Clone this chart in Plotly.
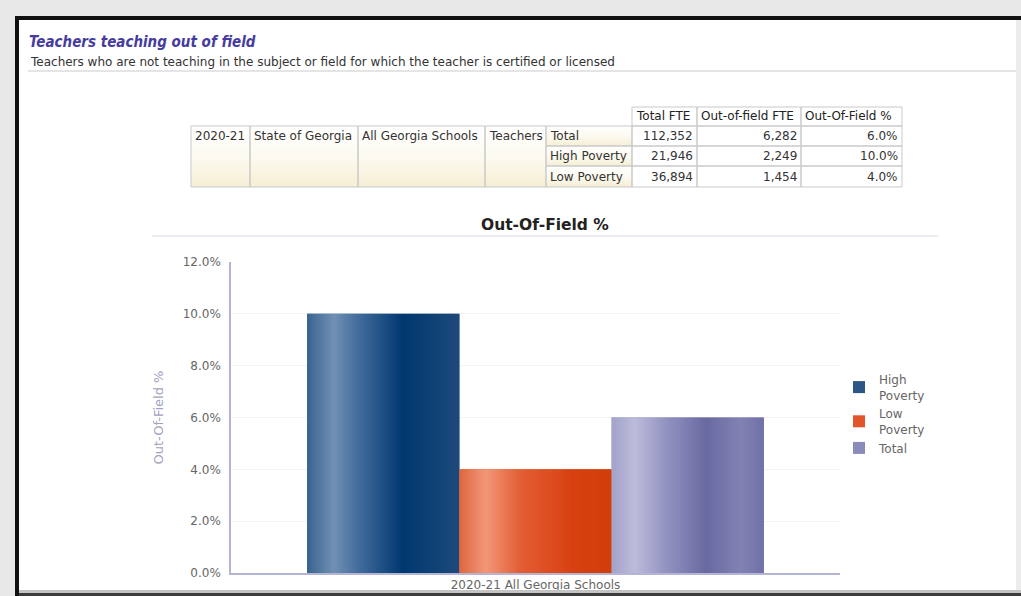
import base64
import struct
import zlib
import plotly.graph_objects as go

# ---------------- data ----------------
school_year = "2020-21"
state_name = "State of Georgia"
school_group = "All Georgia Schools"
staff_role = "Teachers"
table_headers = ["Total FTE", "Out-of-field FTE", "Out-Of-Field %"]
poverty_groups = ["Total", "High Poverty", "Low Poverty"]
total_fte = [112352, 21946, 36894]
out_of_field_fte = [6282, 2249, 1454]
out_of_field_pct = [6.0, 10.0, 4.0]

series_order = ["High Poverty", "Low Poverty", "Total"]
legend_labels = ["High<br>Poverty", "Low<br>Poverty", "Total"]
category_label = school_year + " " + school_group
y_ticks = [0, 2, 4, 6, 8, 10, 12]

# ---------------- styles ----------------
W, H = 1021, 596
L, R, T, B = 231, 840, 262, 573   # plot area in pixels
FONT = "DejaVu Sans, Verdana, sans-serif"
FONT_C = "DejaVu Sans Condensed, DejaVu Sans, sans-serif"
series_colors = {"High Poverty": "#2c5684", "Low Poverty": "#e0562a", "Total": "#8a8abb"}
series_gradients = {
    "High Poverty": [(0.0, "#3a6590"), (0.17, "#7191b4"), (0.35, "#40699a"),
                     (0.63, "#003870"), (1.0, "#1e4a7a")],
    "Low Poverty": [(0.0, "#e06840"), (0.17, "#f2977a"), (0.4, "#e45e34"),
                    (0.75, "#d84010"), (1.0, "#d13e0a")],
    "Total": [(0.0, "#a4a4cc"), (0.15, "#bcbcdc"), (0.35, "#9494c2"),
              (0.62, "#6a6aa2"), (0.85, "#8282b4"), (1.0, "#7272aa")],
}
BARGAP = 0.25


def X(px):
    return (px - L) / (R - L)


def Y(py):
    return (B - py) / (B - T)


def hex_rgb(h):
    h = h.lstrip("#")
    return tuple(int(h[i:i + 2], 16) for i in (0, 2, 4))


def interp(stops, t):
    for (t0, c0), (t1, c1) in zip(stops[:-1], stops[1:]):
        if t0 <= t <= t1:
            a = (t - t0) / (t1 - t0) if t1 > t0 else 0
            r0, r1 = hex_rgb(c0), hex_rgb(c1)
            return tuple(int(round(r0[k] + (r1[k] - r0[k]) * a)) for k in range(3))
    return hex_rgb(stops[-1][1])


def png_uri(rows):
    h = len(rows)
    w = len(rows[0])
    raw = b"".join(b"\x00" + bytes([v for px in row for v in px]) for row in rows)

    def chunk(tag, data):
        c = tag + data
        return struct.pack(">I", len(data)) + c + struct.pack(">I", zlib.crc32(c) & 0xffffffff)

    png = b"\x89PNG\r\n\x1a\n" + chunk(b"IHDR", struct.pack(">IIBBBBB", w, h, 8, 2, 0, 0, 0)) \
        + chunk(b"IDAT", zlib.compress(raw)) + chunk(b"IEND", b"")
    return "data:image/png;base64," + base64.b64encode(png).decode()


def hgrad(stops, n=96):
    return png_uri([[interp(stops, i / (n - 1)) for i in range(n)]] * 2)


def vgrad(stops, n=48):
    return png_uri([[interp(stops, i / (n - 1))] * 2 for i in range(n)])


# ---------------- figure ----------------
fig = go.Figure()
value_of = dict(zip(poverty_groups, out_of_field_pct))
for name, lab in zip(series_order, legend_labels):
    fig.add_trace(go.Bar(
        x=[category_label], y=[value_of[name]], name=lab,
        marker=dict(color=series_colors[name], line=dict(width=0)),
        hoverinfo="skip",
    ))

shapes = []
annotations = []
images = []

# bar gradients computed from data + bar geometry
bw = (1 - BARGAP) / len(series_order)
for i, name in enumerate(series_order):
    left = -(1 - BARGAP) / 2 + i * bw
    images.append(dict(source=hgrad(series_gradients[name]), xref="x", yref="y",
                       x=left, y=value_of[name], sizex=bw, sizey=value_of[name],
                       xanchor="left", yanchor="top", sizing="stretch", layer="above"))


def prect(x0, y0, x1, y1, fill=None, line=None, lw=0, layer="above"):
    shapes.append(dict(type="rect", xref="paper", yref="paper",
                       x0=X(x0), x1=X(x1), y0=Y(y0), y1=Y(y1),
                       fillcolor=fill if fill else "rgba(0,0,0,0)",
                       line=dict(color=line if line else "rgba(0,0,0,0)", width=lw),
                       layer=layer))


def pline(x0, y0, x1, y1, color, lw=1):
    shapes.append(dict(type="line", xref="paper", yref="paper",
                       x0=X(x0), x1=X(x1), y0=Y(y0), y1=Y(y1),
                       line=dict(color=color, width=lw), layer="above"))


def ptext(px, py, text, size=12, color="#333333", xanchor="left", bold=False, family=FONT):
    if bold:
        text = "<b>" + text + "</b>"
    annotations.append(dict(xref="paper", yref="paper", x=X(px), y=Y(py), text=text,
                            showarrow=False, xanchor=xanchor, yanchor="middle",
                            font=dict(size=size, color=color, family=family)))


# page frame
prect(0, 0, W, 16, fill="#e8e8e8")
prect(0, 0, 15, H, fill="#e8e8e8")
prect(15, 16, W, 20, fill="#111111")
prect(15, 16, 19, H, fill="#111111")
prect(1016, 20, W, H, fill="#ececec")
prect(19, 590, W, 593, fill="#c4c4c4")
prect(19, 593, W, H, fill="#3c3c3c")

# headings
ptext(27, 42, "<i>Teachers teaching out of field</i>", size=15, color="#463c9e", bold=True,
      family=FONT_C)
ptext(28, 62, "Teachers who are not teaching in the subject or field for which the teacher is certified or licensed",
      size=12, color="#333333")
pline(28, 71, 1016, 71, "#dcdcdc", 1.5)

# table
col_x = [191, 250, 358, 485, 546, 632, 697, 801, 902]
row_y = [107, 126, 146, 166, 187]
BORDER = "#c9c9c9"
beige = vgrad([(0.0, "#ffffff"), (0.55, "#fcf9ee"), (1.0, "#f6efd6")])
images.append(dict(source=beige, xref="paper", yref="paper", x=X(col_x[0]), y=Y(row_y[1]),
                   sizex=X(col_x[4]) - X(col_x[0]), sizey=Y(row_y[1]) - Y(row_y[4]),
                   xanchor="left", yanchor="top", sizing="stretch", layer="below"))
for r in range(3):
    images.append(dict(source=beige, xref="paper", yref="paper", x=X(col_x[4]), y=Y(row_y[r + 1]),
                       sizex=X(col_x[5]) - X(col_x[4]), sizey=Y(row_y[r + 1]) - Y(row_y[r + 2]),
                       xanchor="left", yanchor="top", sizing="stretch", layer="below"))
# header cells
for c, hdr in enumerate(table_headers):
    prect(col_x[5 + c], row_y[0], col_x[6 + c], row_y[1], line=BORDER, lw=1)
    ptext(col_x[5 + c] + 2, (row_y[0] + row_y[1]) / 2, hdr, size=12, color="#222222")
# merged left cells
for c, txt in enumerate([school_year, state_name, school_group, staff_role]):
    prect(col_x[c], row_y[1], col_x[c + 1], row_y[4], line=BORDER, lw=1)
    ptext(col_x[c] + 2, (row_y[1] + row_y[2]) / 2, txt, size=12, color="#333333")
# group rows
for r, grp in enumerate(poverty_groups):
    y0, y1 = row_y[r + 1], row_y[r + 2]
    ym = (y0 + y1) / 2
    prect(col_x[4], y0, col_x[5], y1, line=BORDER, lw=1)
    ptext(col_x[4] + 2, ym, grp, size=12)
    vals = [f"{total_fte[r]:,}", f"{out_of_field_fte[r]:,}", f"{out_of_field_pct[r]:.1f}%"]
    for c, v in enumerate(vals):
        prect(col_x[5 + c], y0, col_x[6 + c], y1, line=BORDER, lw=1)
        ptext(col_x[6 + c] - 2, ym, v, size=12, xanchor="right")

# chart title
ptext(545, 225, "Out-Of-Field %", size=15.5, color="#222222", xanchor="center", bold=True)
pline(152, 236, 938, 236, "#ebebf2", 2)

fig.update_layout(
    width=W, height=H,
    margin=dict(l=L, r=W - R, t=T, b=H - B, pad=0, autoexpand=False),
    paper_bgcolor="#ffffff",
    plot_bgcolor="rgba(0,0,0,0)",
    barmode="group", bargap=BARGAP, bargroupgap=0,
    font=dict(family=FONT, size=12, color="#666666"),
    showlegend=True,
    legend=dict(x=X(839), y=Y(365), xanchor="left", yanchor="top",
                font=dict(size=12, color="#666666"), tracegroupgap=1,
                bgcolor="rgba(0,0,0,0)", itemwidth=30),
    xaxis=dict(range=[-0.5, 0.5], showline=True, linecolor="#b4b4d4", linewidth=1.5,
               showgrid=False, ticks="", automargin=False,
               tickfont=dict(size=12, color="#666666")),
    yaxis=dict(range=[0, 12], tickvals=y_ticks, ticktext=[f"{v:.1f}%" for v in y_ticks],
               showline=True, linecolor="#b4b4d4", linewidth=1.5, automargin=False,
               showgrid=True, gridcolor="#f3f3f3", zeroline=False, ticks="",
               ticklabelstandoff=6, tickfont=dict(size=12, color="#666666"),
               title=dict(text="Out-Of-Field %", standoff=16,
                          font=dict(size=13, color="#a2a2c2"))),
    shapes=shapes, annotations=annotations, images=images,
)

fig.write_html("out.html", config={"displayModeBar": False},
               post_script="document.body.style.margin='0';document.body.style.overflow='hidden';")
